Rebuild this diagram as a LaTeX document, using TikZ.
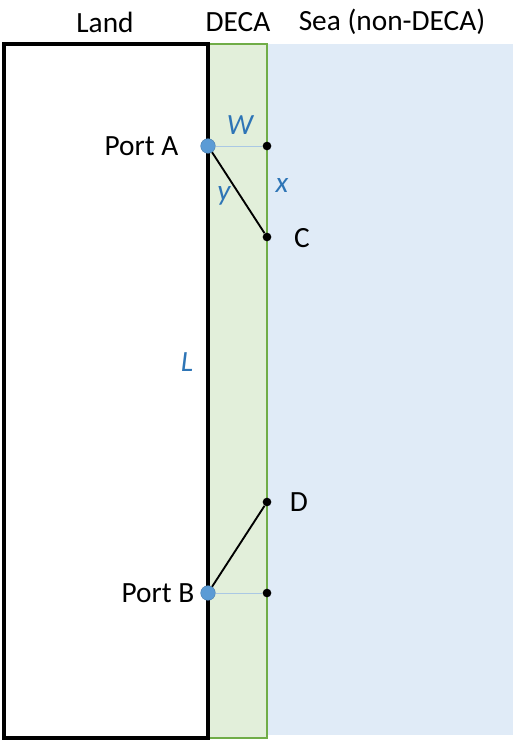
\documentclass[tikz,border=0pt]{standalone}
\usepackage{fontspec}
\setmainfont{Carlito}
\usepackage{tikz}

\definecolor{decagreen}{RGB}{226,239,218}
\definecolor{decaline}{RGB}{112,173,71}
\definecolor{seablue}{RGB}{224,235,247}
\definecolor{portblue}{RGB}{91,155,213}
\definecolor{labelblue}{RGB}{46,117,182}
\definecolor{thinblue}{RGB}{170,200,228}

\tikzset{
	port/.style={circle, fill=portblue, draw=portblue!80!black, line width=0.3pt, inner sep=0pt, minimum size=11pt},
	pt/.style={circle, fill=black, inner sep=0pt, minimum size=6.5pt},
	var/.style={text=labelblue, font=\fontsize{22}{24}\selectfont\itshape},
	txt/.style={font=\fontsize{22}{24}\selectfont}
}

\begin{document}
\begin{tikzpicture}[x=0.75pt, y=-0.75pt]
	\useasboundingbox (0, 0) rectangle (520, 747);
	\fill [color=seablue] (267, 44) rectangle (513, 735);
	\filldraw [fill=decagreen, draw=decaline, line width=1.6pt] (208, 44) rectangle (267, 738);
	\draw [color=black, line width=2.3pt] (4, 44) rectangle (208, 738);

	\node [txt] (land) at (105, 22) {Land};
	\node [txt] (deca) at (238, 22) {DECA};
	\node [txt] (sea) at (392, 22) {Sea (non-DECA)};

	\node [pt] (a1) at (267, 146) {};
	\node [pt] (c) at (267, 237) {};
	\node [pt] (d) at (267, 502) {};
	\node [pt] (b1) at (267, 593) {};
	\node [port] (a) at (208, 146) {};
	\node [port] (b) at (208, 593) {};

	\draw [color=thinblue, line width=0.6pt] (a) -- (a1);
	\draw [color=thinblue, line width=0.6pt] (b) -- (b1);
	\draw [line width=1.4pt] (a) -- (c);
	\draw [line width=1.4pt] (b) -- (d);

	\node [txt, anchor=east] (porta) at (183, 146) {Port A};
	\node [txt, anchor=east] (portb) at (199, 593) {Port B};
	\node [txt] (clab) at (302, 238) {C};
	\node [txt] (dlab) at (299, 502) {D};

	\node [var] (w) at (240, 125) {W};
	\node [var] (x) at (282, 185) {x};
	\node [var] (y) at (224, 196) {y};
	\node [var] (l) at (187, 362) {L};
\end{tikzpicture}
\end{document}
